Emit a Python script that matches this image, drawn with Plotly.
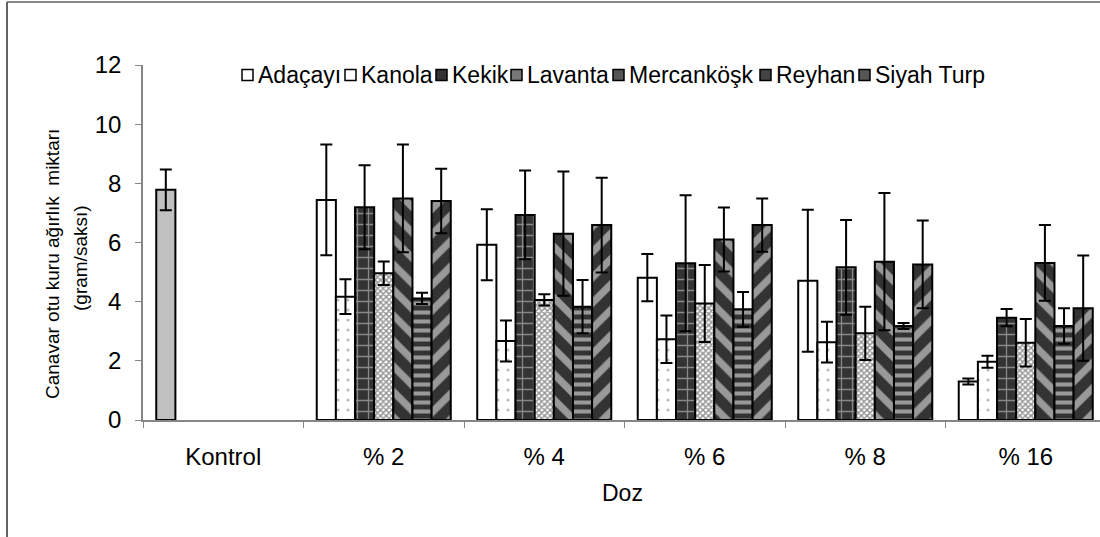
import plotly.graph_objects as go

categories = ["Kontrol", "% 2", "% 4", "% 6", "% 8", "% 16"]
series_names = ["Adaçayı", "Kanola", "Kekik", "Lavanta", "Mercanköşk", "Reyhan", "Siyah Turp"]

adacayi = [7.78, 7.44, 5.92, 4.81, 4.71, 1.30]
adacayi_err = [0.69, 1.87, 1.20, 0.80, 2.40, 0.10]
kanola = [None, 4.17, 2.67, 2.73, 2.63, 1.97]
kanola_err = [None, 0.59, 0.69, 0.80, 0.69, 0.20]
kekik = [None, 7.19, 6.93, 5.30, 5.16, 3.46]
kekik_err = [None, 1.42, 1.50, 2.30, 1.60, 0.29]
lavanta = [None, 4.96, 4.06, 3.94, 2.93, 2.61]
lavanta_err = [None, 0.40, 0.19, 1.30, 0.90, 0.80]
mercankosk = [None, 7.49, 6.30, 6.10, 5.35, 5.31]
mercankosk_err = [None, 1.82, 2.10, 1.08, 2.32, 1.28]
reyhan = [None, 4.11, 3.83, 3.74, 3.18, 3.18]
reyhan_err = [None, 0.19, 0.90, 0.59, 0.10, 0.60]
siyah_turp = [None, 7.40, 6.59, 6.59, 5.26, 3.78]
siyah_turp_err = [None, 1.09, 1.60, 0.90, 1.48, 1.78]

values = [adacayi, kanola, kekik, lavanta, mercankosk, reyhan, siyah_turp]
errors = [adacayi_err, kanola_err, kekik_err, lavanta_err, mercankosk_err, reyhan_err, siyah_turp_err]

DARK = "#333333"
patterns = [
    dict(shape=""),
    dict(shape=".", fgcolor="#777777", bgcolor="white", size=10, solidity=0.08),
    dict(shape="+", fgcolor="#dddddd", bgcolor=DARK, size=11, solidity=0.22),
    dict(shape="x", fgcolor="#222222", bgcolor="white", size=4, solidity=0.6),
    dict(shape="\\", fgcolor="white", bgcolor=DARK, size=18, solidity=0.4),
    dict(shape="-", fgcolor="white", bgcolor=DARK, size=9, solidity=0.45),
    dict(shape="/", fgcolor="white", bgcolor=DARK, size=18, solidity=0.4),
]
legend_fill = ["white", "white", DARK, "#777777", "#555555", "#444444", "#555555"]

FONT = "Liberation Sans, Arial, sans-serif"

fig = go.Figure()
for i, name in enumerate(series_names):
    if i == 0:
        color = ["#c0c0c0"] + ["white"] * (len(categories) - 1)
    else:
        color = "white"
    fig.add_trace(go.Bar(
        name=name, x=categories, y=values[i],
        marker=dict(color=color, line=dict(color="black", width=2), pattern=patterns[i]),
        error_y=dict(type="data", array=errors[i], color="black", thickness=2, width=6, visible=True),
        showlegend=False,
    ))

# plot area in pixels
L, R, T, B = 143, 1100, 65, 420
W, H = 1100, 537
def px(x):
    return (x - L) / (R - L)
def py(y):
    return (B - y) / (B - T)

cat_px = 160.5
xmax = -0.5 + (R - L) / cat_px

fig.update_layout(
    width=W, height=H,
    margin=dict(l=L, r=W - R, t=T, b=H - B),
    paper_bgcolor="white", plot_bgcolor="white",
    barmode="group", bargap=0.165, bargroupgap=0,
    font=dict(family=FONT, color="black"),
    xaxis=dict(range=[-0.5, xmax], showline=True, linecolor="#868686", linewidth=1.5,
               ticks="outside", tickson="boundaries", ticklen=6, tickcolor="#868686",
               ticklabelstandoff=14,
               tickfont=dict(size=24, family=FONT), showgrid=False, zeroline=False),
    yaxis=dict(range=[0, 12], dtick=2, showline=True, linecolor="#868686", linewidth=1.5,
               ticks="outside", ticklen=6, tickcolor="#868686",
               ticklabelstandoff=9,
               tickfont=dict(size=24, family=FONT), showgrid=False, zeroline=False),
)

annotations = [
    dict(text="Doz", x=px(622), y=py(493), xref="paper", yref="paper",
         showarrow=False, xanchor="center", yanchor="middle", font=dict(size=23, family=FONT)),
    dict(text="Canavar otu kuru ağırlık  miktarı", x=px(52), y=py(264), xref="paper", yref="paper",
         showarrow=False, textangle=-90, xanchor="center", yanchor="middle", font=dict(size=19, family=FONT)),
    dict(text="(gram/saksı)", x=px(80), y=py(258), xref="paper", yref="paper",
         showarrow=False, textangle=-90, xanchor="center", yanchor="middle", font=dict(size=19, family=FONT)),
]

# manual legend
sym_x = [242, 345, 436, 511, 613, 760, 859]
shapes = []
ly = 75
for i, name in enumerate(series_names):
    sx = sym_x[i]
    shapes.append(dict(type="rect", xref="paper", yref="paper",
                       x0=px(sx), x1=px(sx + 11), y0=py(ly + 5.5), y1=py(ly - 5.5),
                       fillcolor=legend_fill[i], line=dict(color="black", width=1.5)))
    annotations.append(dict(text=name, x=px(sx + 14), y=py(ly), xref="paper", yref="paper",
                            showarrow=False, xanchor="left", yanchor="middle",
                            font=dict(size=23, family=FONT)))

# outer frame (left and top edges)
shapes.append(dict(type="line", xref="paper", yref="paper", x0=px(7), x1=px(7), y0=py(2), y1=py(540),
                   line=dict(color="#303030", width=1.5)))
shapes.append(dict(type="line", xref="paper", yref="paper", x0=px(7), x1=px(1102), y0=py(2), y1=py(2),
                   line=dict(color="#606060", width=1.5)))

fig.update_layout(annotations=annotations, shapes=shapes)
fig.write_html("out.html")
